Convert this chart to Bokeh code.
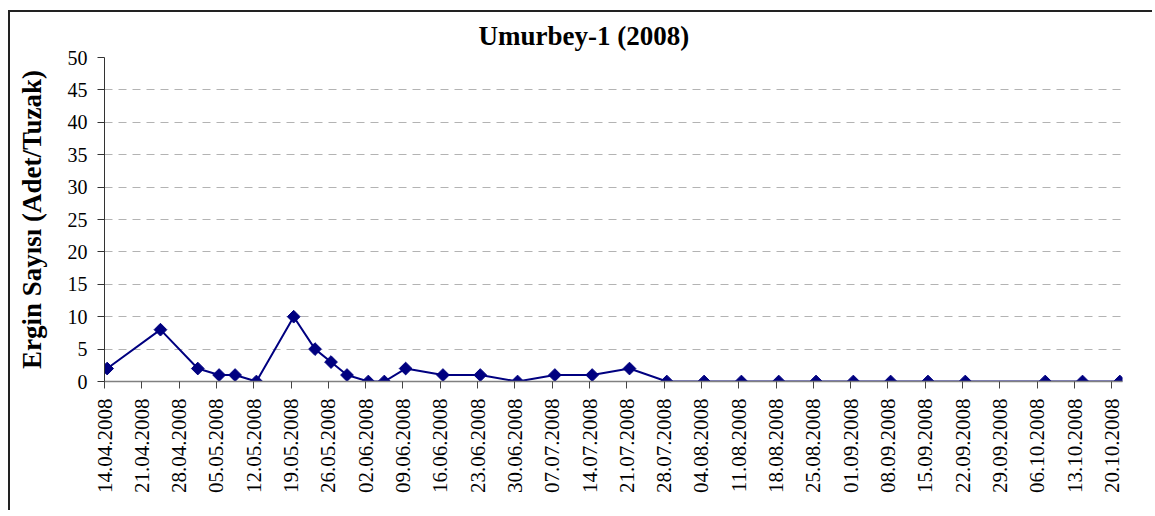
import numpy as np
import pandas as pd
from bokeh.plotting import figure
from bokeh.models import FixedTicker, DatetimeTickFormatter, Range1d, ColumnDataSource
from bokeh.embed import file_html
from bokeh.resources import INLINE

# ---- data ----
dates = ["14.04.2008", "24.04.2008", "01.05.2008", "05.05.2008", "08.05.2008",
         "12.05.2008", "19.05.2008", "23.05.2008", "26.05.2008", "29.05.2008",
         "02.06.2008", "05.06.2008", "09.06.2008", "16.06.2008", "23.06.2008",
         "30.06.2008", "07.07.2008", "14.07.2008", "21.07.2008", "28.07.2008",
         "04.08.2008", "11.08.2008", "18.08.2008", "25.08.2008", "01.09.2008",
         "08.09.2008", "15.09.2008", "22.09.2008", "07.10.2008", "14.10.2008",
         "21.10.2008"]
counts = [2, 8, 2, 1, 1, 0, 10, 5, 3, 1, 0, 0, 2, 1, 1, 0, 1, 1, 2, 0,
          0, 0, 0, 0, 0, 0, 0, 0, 0, 0, 0]
tick_labels = ["14.04.2008", "21.04.2008", "28.04.2008", "05.05.2008", "12.05.2008",
               "19.05.2008", "26.05.2008", "02.06.2008", "09.06.2008", "16.06.2008",
               "23.06.2008", "30.06.2008", "07.07.2008", "14.07.2008", "21.07.2008",
               "28.07.2008", "04.08.2008", "11.08.2008", "18.08.2008", "25.08.2008",
               "01.09.2008", "08.09.2008", "15.09.2008", "22.09.2008", "29.09.2008",
               "06.10.2008", "13.10.2008", "20.10.2008"]
y_ticks = [0, 5, 10, 15, 20, 25, 30, 35, 40, 45, 50]
title_text = "Umurbey-1 (2008)"
y_label = "Ergin Sayısı (Adet/Tuzak)"

FONT = "'Liberation Serif', 'Times New Roman', serif"
NAVY = "#000080"

day = pd.Timedelta(days=1)
d = pd.to_datetime(dates, format="%d.%m.%Y")
x = d + day / 2  # Excel date axis: point in the middle of its day slot
ticks_dt = pd.to_datetime(tick_labels, format="%d.%m.%Y")
epoch = pd.Timestamp("1970-01-01")
tick_ms = [float((t - epoch) / pd.Timedelta(milliseconds=1)) for t in ticks_dt]

src = ColumnDataSource(dict(x=x, y=counts))

p = figure(width=1144, height=500, x_axis_type="datetime",
           x_range=Range1d(d.min(), d.max() + day),
           y_range=Range1d(y_ticks[0], y_ticks[-1]),
           output_backend="svg", toolbar_location=None,
           min_border_left=94, min_border_right=32, min_border_top=43,
           min_border_bottom=131, title=title_text)
p.margin = (12, 0, 0, 10)
p.styles = {"box-shadow": "-2px -2px 0 0 #222222"}

p.outline_line_color = None
p.background_fill_color = "white"
p.border_fill_color = "white"

# title
p.title.align = "left"
p.title.offset = 374
p.title.text_font = FONT
p.title.text_font_size = "27px"
p.title.text_font_style = "bold"
p.title.text_color = "black"
p.title.standoff = 13

# grid
p.xgrid.visible = False
p.ygrid.grid_line_color = "#b3b3b3"
p.ygrid.grid_line_dash = "8 6"
p.ygrid.grid_line_width = 1

# y axis
p.yaxis.ticker = FixedTicker(ticks=y_ticks)
p.yaxis.axis_label = y_label
p.yaxis.axis_label_text_font = FONT
p.yaxis.axis_label_text_font_size = "27px"
p.yaxis.axis_label_text_font_style = "bold"
p.yaxis.axis_label_text_color = "black"
p.yaxis.axis_label_standoff = 18
p.yaxis.major_label_text_font = FONT
p.yaxis.major_label_text_font_size = "20px"
p.yaxis.major_label_text_color = "black"
p.yaxis.major_label_standoff = 10
p.yaxis.major_tick_out = 7
p.yaxis.major_tick_in = 0
p.yaxis.minor_tick_line_color = None
p.yaxis.axis_line_color = "#333333"
p.yaxis.major_tick_line_color = "#333333"

# x axis
p.xaxis.ticker = FixedTicker(ticks=tick_ms)
fmt = "%d.%m.%Y"
p.xaxis.formatter = DatetimeTickFormatter(
    milliseconds=fmt, seconds=fmt, minsec=fmt, minutes=fmt, hourmin=fmt,
    hours=fmt, days=fmt, months=fmt, years=fmt)
p.xaxis.major_label_orientation = np.pi / 2
p.xaxis.major_label_text_font = FONT
p.xaxis.major_label_text_font_size = "21px"
p.xaxis.major_label_text_color = "black"
p.xaxis.major_label_standoff = 10
p.xaxis.major_tick_out = 7
p.xaxis.major_tick_in = 0
p.xaxis.minor_tick_line_color = None
p.xaxis.axis_line_color = "#808080"
p.xaxis.axis_line_width = 1.5
p.xaxis.major_tick_line_color = "#444444"

# series
p.line("x", "y", source=src, line_color=NAVY, line_width=2)
p.scatter("x", "y", source=src, marker="square", angle=np.pi / 4, size=9,
          fill_color=NAVY, line_color=NAVY)

open("out.html", "w").write(file_html(p, INLINE))
